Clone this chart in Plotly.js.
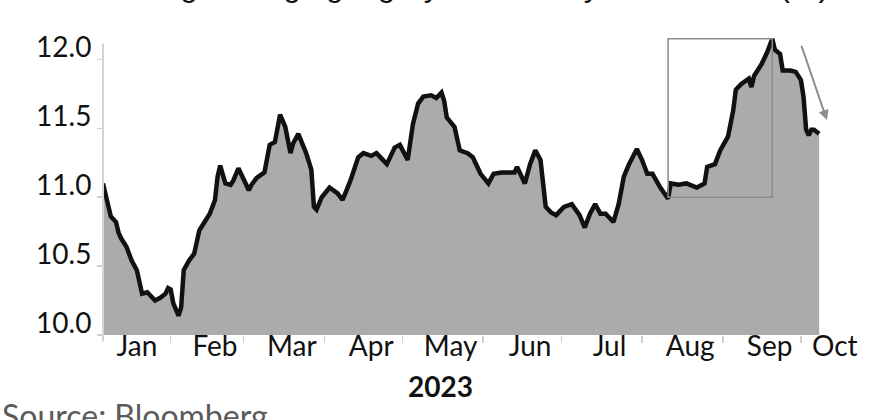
<!DOCTYPE html>
<html>
<head>
<meta charset="utf-8">
<script src="https://cdn.plot.ly/plotly-3.0.1.min.js"></script>
<style>
  html, body { margin: 0; padding: 0; background: #ffffff; }
  #chart { width: 894px; height: 420px; }
</style>
</head>
<body>
<div id="chart"></div>
<script>
// Daily yield observations, 2023 (%)
const dates = [
  '2023-01-06','2023-01-08','2023-01-09','2023-01-11','2023-01-12','2023-01-13','2023-01-15','2023-01-17',
  '2023-01-19','2023-01-21','2023-01-23','2023-01-26','2023-01-28','2023-01-30','2023-01-31','2023-02-01',
  '2023-02-02','2023-02-04','2023-02-05','2023-02-06','2023-02-08','2023-02-10','2023-02-12','2023-02-14',
  '2023-02-16','2023-02-18','2023-02-19','2023-02-20','2023-02-21','2023-02-22','2023-02-24','2023-02-25',
  '2023-02-27','2023-03-01','2023-03-03','2023-03-04','2023-03-06','2023-03-09','2023-03-10','2023-03-11',
  '2023-03-13','2023-03-15','2023-03-17','2023-03-19','2023-03-20','2023-03-22','2023-03-25','2023-03-27',
  '2023-03-28','2023-03-29','2023-03-31','2023-04-03','2023-04-06','2023-04-08','2023-04-11','2023-04-14',
  '2023-04-16','2023-04-19','2023-04-21','2023-04-25','2023-04-28','2023-04-30','2023-05-03','2023-05-05',
  '2023-05-07','2023-05-09','2023-05-12','2023-05-14','2023-05-16','2023-05-17','2023-05-18','2023-05-21',
  '2023-05-23','2023-05-26','2023-05-28','2023-05-31','2023-06-03','2023-06-05','2023-06-08','2023-06-13',
  '2023-06-14','2023-06-17','2023-06-19','2023-06-21','2023-06-23','2023-06-25','2023-06-27','2023-06-29',
  '2023-07-02','2023-07-05','2023-07-08','2023-07-10','2023-07-12','2023-07-14','2023-07-16','2023-07-18',
  '2023-07-21','2023-07-23','2023-07-25','2023-07-27','2023-07-30','2023-08-01','2023-08-03','2023-08-05',
  '2023-08-08','2023-08-11','2023-08-12','2023-08-15','2023-08-18','2023-08-22','2023-08-25','2023-08-26',
  '2023-08-29','2023-08-31','2023-09-03','2023-09-05','2023-09-06','2023-09-08','2023-09-11','2023-09-12',
  '2023-09-13','2023-09-16','2023-09-18','2023-09-20','2023-09-21','2023-09-23','2023-09-24','2023-09-27',
  '2023-09-29','2023-10-01','2023-10-02','2023-10-03','2023-10-04','2023-10-05','2023-10-06','2023-10-08'
];
const yields = [
  11.10,10.93,10.86,10.82,10.74,10.70,10.64,10.54,
  10.47,10.30,10.31,10.25,10.27,10.30,10.34,10.33,
  10.23,10.14,10.20,10.47,10.54,10.59,10.76,10.82,
  10.88,10.98,11.15,11.23,11.17,11.10,11.09,11.12,
  11.21,11.12,11.05,11.09,11.14,11.18,11.27,11.38,
  11.40,11.60,11.51,11.32,11.39,11.46,11.32,11.20,
  10.93,10.91,11.00,11.07,11.03,10.98,11.12,11.29,
  11.32,11.30,11.32,11.24,11.36,11.38,11.27,11.53,
  11.68,11.73,11.74,11.72,11.76,11.70,11.58,11.51,
  11.34,11.32,11.29,11.17,11.10,11.17,11.18,11.18,
  11.22,11.10,11.24,11.34,11.27,10.93,10.89,10.87,
  10.93,10.95,10.87,10.78,10.88,10.95,10.88,10.88,
  10.82,10.95,11.15,11.24,11.35,11.27,11.17,11.17,
  11.07,10.99,11.10,11.09,11.10,11.07,11.10,11.22,
  11.24,11.34,11.44,11.63,11.78,11.82,11.86,11.80,
  11.88,11.97,12.05,12.15,12.07,12.04,11.92,11.92,
  11.91,11.85,11.73,11.49,11.45,11.49,11.49,11.46
];
const monthNames = ['Jan','Feb','Mar','Apr','May','Jun','Jul','Aug','Sep','Oct'];
const yTicks = [10.0, 10.5, 11.0, 11.5, 12.0];

const titleText = 'Bloomberg Emerging high-yield index yield to worst (%)';
const yearLabel = '2023';
const sourceText = 'Source: Bloomberg';

const rangeStart = '2023-01-06';
const rangeEnd = '2023-10-21';

// Highlighted run-up: from the August low to the September peak
const highlightStart = '2023-08-11';
const highlightFloor = 11.0;
// Arrow marking the pull-back since the peak
const arrowFrom = { date: '2023-10-01', value: 12.11 };
const arrowTo = { date: '2023-10-11', value: 11.56 };

// Peak of the series closes the highlight box
let peakIdx = 0;
yields.forEach((v, i) => { if (v > yields[peakIdx]) peakIdx = i; });

// Month boundaries get tick marks; each label sits a little past the middle
// of the visible part of its month (the clipped first month is centred)
const DAY = 86400000;
const t0 = Date.parse(rangeStart + 'T00:00:00Z');
const t1 = Date.parse(rangeEnd + 'T00:00:00Z');
const fmt = ms => new Date(ms).toISOString().slice(0, 19).replace('T', ' ');
const monthStarts = [];
const labelVals = [];
monthNames.forEach((name, m) => {
  const s = Date.UTC(2023, m, 1);
  const e = Date.UTC(2023, m + 1, 1);
  if (s > t0) monthStarts.push(fmt(s));
  const a = Math.max(s, t0), b = Math.min(e, t1);
  const nudge = s >= t0 ? 3 * DAY : 0;
  labelVals.push(fmt((a + b) / 2 + nudge));
});

const FONT = 'Lato, "Open Sans", sans-serif';

const trace = {
  type: 'scatter',
  mode: 'lines',
  x: dates,
  y: yields,
  line: { color: '#111111', width: 4.5, shape: 'linear' },
  fill: 'tozeroy',
  fillcolor: '#ababab',
  hoverinfo: 'skip'
};

const layout = {
  width: 894,
  height: 420,
  margin: { l: 103, r: 41, t: 25, b: 85, pad: 0 },
  paper_bgcolor: '#ffffff',
  plot_bgcolor: '#ffffff',
  showlegend: false,
  font: { family: FONT, size: 28, color: '#111111' },
  xaxis: {
    type: 'date',
    range: [rangeStart, rangeEnd],
    tickmode: 'array',
    tickvals: labelVals,
    ticktext: monthNames,
    ticks: '',
    ticklabelstandoff: -8,
    tickfont: { family: FONT, size: 28, color: '#111111' },
    minor: {
      tickmode: 'array',
      tickvals: monthStarts,
      ticks: 'outside',
      ticklen: 7,
      tickwidth: 1.5,
      tickcolor: '#cfcfcf',
      showgrid: false
    },
    showgrid: false,
    showline: false,
    zeroline: false,
    fixedrange: true
  },
  yaxis: {
    range: [10, 12.25],
    tickmode: 'array',
    tickvals: yTicks,
    tickformat: '.1f',
    ticks: 'outside',
    ticklen: 5,
    tickwidth: 1.5,
    tickcolor: '#cfcfcf',
    ticklabelshift: -12,
    tickfont: { family: FONT, size: 28, color: '#111111' },
    showgrid: false,
    showline: false,
    zeroline: false,
    fixedrange: true
  },
  shapes: [
    // vertical axis line
    {
      type: 'line', xref: 'paper', yref: 'paper',
      x0: 0, x1: 0, y0: -0.022, y1: 0.94,
      line: { color: '#d4d4d4', width: 2 }, layer: 'above'
    },
    // highlight box
    {
      type: 'rect', xref: 'x', yref: 'y',
      x0: highlightStart, x1: dates[peakIdx],
      y0: highlightFloor, y1: yields[peakIdx],
      line: { color: '#8c8c8c', width: 1.5 },
      fillcolor: 'rgba(0,0,0,0)', layer: 'above'
    }
  ],
  annotations: [
    {
      text: titleText, showarrow: false,
      xref: 'paper', yref: 'paper', x: 0, y: 1,
      xanchor: 'left', yanchor: 'bottom', xshift: -62, yshift: 20,
      font: { family: '"Liberation Sans", Arial, sans-serif', size: 32, color: '#111111' }
    },
    {
      text: '', showarrow: true,
      xref: 'x', yref: 'y', x: arrowTo.date, y: arrowTo.value,
      axref: 'x', ayref: 'y', ax: arrowFrom.date, ay: arrowFrom.value,
      arrowhead: 2, arrowsize: 1, arrowwidth: 2, arrowcolor: '#8c8c8c', standoff: 0
    },
    {
      text: '<b>' + yearLabel + '</b>', showarrow: false,
      xref: 'paper', yref: 'paper', x: 0.5, y: 0,
      xanchor: 'center', yanchor: 'middle', xshift: -38, yshift: -51,
      font: { family: FONT, size: 28, color: '#111111' }
    },
    {
      text: sourceText, showarrow: false,
      xref: 'paper', yref: 'paper', x: 0, y: 0,
      xanchor: 'left', yanchor: 'top', xshift: -103, yshift: -59,
      font: { family: FONT, size: 32, color: '#5a5a5a' }
    }
  ]
};

Plotly.newPlot('chart', [trace], layout, { staticPlot: true, displayModeBar: false });
</script>
</body>
</html>
